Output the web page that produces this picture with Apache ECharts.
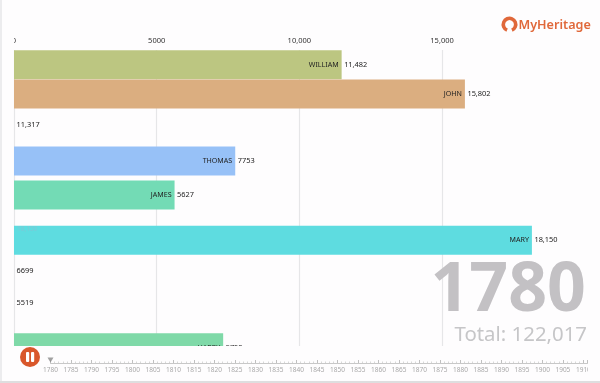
<!DOCTYPE html>
<html><head><meta charset="utf-8">
<style>html,body{margin:0;padding:0;background:#fefdfe}#c{width:600px;height:383px}</style>
<script src="https://cdn.jsdelivr.net/npm/echarts@6/dist/echarts.min.js"></script>
</head><body><div id="c"></div>
<script>
const names = ['WILLIAM','JOHN','','THOMAS','JAMES','MARY','','','HARRY'];
const barValues = [11482,15802,0,7753,5627,18150,0,0,7330];
const valueLabels = ['11,482','15,802','11,317','7753','5627','18,150','6699','5519','5720'];
const ranks = [0.97,1.91,2.91,4.06,5.15,6.61,7.59,8.62,10.06];
const barColors = ['#bcc681','#dbae80','#ffffff','#97c1f7','#73dbb5','#5edce0','#ffffff','#ffffff','#7fd9a8'];
const xTickLabels = {0:'0',5000:'5000',10000:'10,000',15000:'15,000'};
const currentYear = 1780;
const yearLabel = '1780';
const totalLabel = 'Total: 122,017';
const FONT = '"Noto Sans"';

const chart = echarts.init(document.getElementById('c'));
const data = barValues.map((v,i)=>[v,ranks[i],i]);
chart.setOption({
  animation:false,
  backgroundColor:'#fefdfe',
  grid:[
    {left:14,top:50,width:570.7,height:296},
    {left:50.5,top:353,width:537,height:10}
  ],
  xAxis:[
    {gridIndex:0,type:'value',position:'top',min:0,max:20000,interval:5000,
     axisLine:{show:false},axisTick:{show:false},
     axisLabel:{showMaxLabel:false,color:'#333',fontFamily:FONT,fontSize:7.5,margin:5,formatter:v=>xTickLabels[v]||''},
     splitLine:{show:true,showMaxLine:false,lineStyle:{color:'#e6e6e8',width:1.2}}},
    {gridIndex:1,type:'value',position:'bottom',min:1780,max:1911,interval:5,
     axisLine:{show:true,lineStyle:{color:'#c8c8c8',width:1}},
     axisTick:{show:true,length:3,inside:true,lineStyle:{color:'#c0c0c0'}},
     minorTick:{show:true,splitNumber:5,length:1.5,lineStyle:{color:'#d8d8d8'}},
     axisLabel:{showMaxLabel:false,color:'#a8a8a8',fontFamily:FONT,fontSize:6.5,margin:3.5,formatter:v=>String(v)},
     splitLine:{show:false}}
  ],
  yAxis:[
    {gridIndex:0,type:'value',inverse:true,min:0.5,max:10,show:false,splitLine:{show:false}},
    {gridIndex:1,type:'value',min:0,max:1,show:false,splitLine:{show:false}}
  ],
  series:[
    {type:'custom',xAxisIndex:0,yAxisIndex:0,clip:true,data:data,encode:{x:0,y:1},
     renderItem:(p,api)=>{
       const i=api.value(2), end=api.coord([api.value(0),api.value(1)]), start=api.coord([0,api.value(1)]);
       const h=29; const ch=[];
       if(barValues[i]>0) ch.push({type:'rect',shape:{x:start[0],y:end[1]-h/2,width:end[0]-start[0],height:h},style:{fill:barColors[i]}});
       if(names[i]) ch.push({type:'text',style:{x:end[0]-3,y:end[1],text:names[i],align:'right',verticalAlign:'middle',fill:'#222',font:'7.1px '+FONT}});
       ch.push({type:'text',style:{x:end[0]+2.5,y:end[1],text:valueLabels[i],align:'left',verticalAlign:'middle',fill:'#222',font:'7.4px '+FONT}});
       return {type:'group',children:ch};
     }},
    {type:'scatter',xAxisIndex:1,yAxisIndex:1,data:[[currentYear,0.3]],symbol:'triangle',symbolRotate:180,symbolSize:[6,5],itemStyle:{color:'#8a8a8a'},silent:true,z:5}
  ],
  graphic:[
    {type:'rect',shape:{x:0,y:30,width:14,height:20},style:{fill:'#fefdfe'},z:100},
    {type:'rect',shape:{x:588,y:360,width:12,height:20},style:{fill:'#fefdfe'},z:100},
    {type:'rect',shape:{x:0,y:0,width:2,height:383},style:{fill:'#ececee'},z:101},
    {type:'rect',shape:{x:0,y:381,width:600,height:2},style:{fill:'#dededf'},z:101},
    {type:'text',style:{x:17,y:229,text:'18,150',align:'left',verticalAlign:'middle',fill:'#7cc9d6',font:'6.5px '+FONT},z:40},
    {type:'text',style:{x:586,y:292,text:yearLabel,align:'right',verticalAlign:'middle',fill:'#c3c1c4',font:'bold 68px '+FONT},z:50},
    {type:'text',style:{x:587,y:335,text:totalLabel,align:'right',verticalAlign:'middle',fill:'#c6c6c8',font:'20.4px '+FONT},z:50},
    {type:'circle',shape:{cx:30,cy:357,r:10},style:{fill:'#d9572b'},z:60},
    {type:'rect',shape:{x:26,y:352,width:3.2,height:10,r:1},style:{fill:'#fff'},z:61},
    {type:'rect',shape:{x:31,y:352,width:3.2,height:10,r:1},style:{fill:'#fff'},z:61},
    {type:'arc',shape:{cx:509.5,cy:24.5,r:6.2,startAngle:Math.PI/2+0.4,endAngle:Math.PI/2-0.4+2*Math.PI,clockwise:true},style:{fill:'none',stroke:'#e0683a',lineWidth:3.6},z:60},
    {type:'text',style:{x:518.5,y:25,text:'MyHeritage',align:'left',verticalAlign:'middle',fill:'#e0683a',font:'600 12.6px '+FONT},z:60}
  ]
});
</script></body></html>
